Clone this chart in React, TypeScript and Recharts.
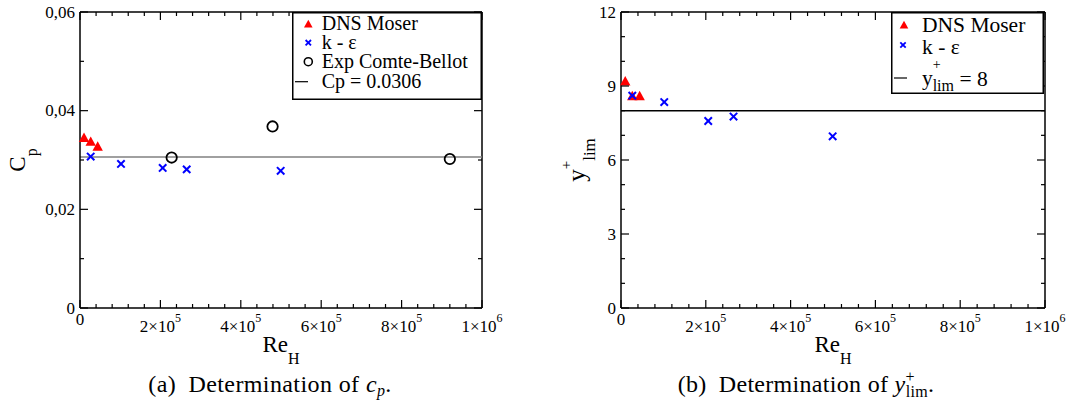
import React from "react";
import { ScatterChart, Scatter, XAxis, YAxis, ReferenceLine, Legend } from "recharts";

const FONT = "Liberation Serif, Times New Roman, Times, serif";

// Re_H of each case
const dnsRe = [10000, 26600, 44000];
const keRe = [26600, 102000, 205700, 265400, 499200];
const expRe = [228000, 479000, 920000];

// (a) pressure coefficient
const dnsCp = [0.0344, 0.0336, 0.0326];
const keCp = [0.0307, 0.0292, 0.0284, 0.0281, 0.0278];
const expCp = [0.0305, 0.0368, 0.0302];
const cpFit = 0.0306;

// (b) y+ limit
const dnsYlim = [9.17, 8.57, 8.57];
const keYlim = [8.61, 8.35, 7.58, 7.76, 6.96];
const yLimFit = 8;

// axis ticks
const xTicks = [
  0, 40000, 80000, 120000, 160000, 200000, 240000, 280000, 320000, 360000, 400000,
  440000, 480000, 520000, 560000, 600000, 640000, 680000, 720000, 760000, 800000,
  840000, 880000, 920000, 960000, 1000000,
];
const xMajor = [0, 200000, 400000, 600000, 800000, 1000000];
const xTickBase = ["0", "2×10", "4×10", "6×10", "8×10", "1×10"];
const xTickExp = ["", "5", "5", "5", "5", "6"];

const cpTicks = [0, 0.01, 0.02, 0.03, 0.04, 0.05, 0.06];
const cpMajor = [0, 0.02, 0.04, 0.06];
const cpLabels = ["0", "0,02", "0,04", "0,06"];

const ylimTicks = [0, 1, 2, 3, 4, 5, 6, 7, 8, 9, 10, 11, 12];
const ylimMajor = [0, 3, 6, 9, 12];
const ylimLabels = ["0", "3", "6", "9", "12"];

const PLOT_H = 296;

const toPoints = (xs: number[], ys: number[]) => xs.map((re, i) => ({ re, v: ys[i] }));

const Triangle = (p: any) => (
  <polygon
    points={`${p.cx},${p.cy - 5.8} ${p.cx - 5.2},${p.cy + 3.6} ${p.cx + 5.2},${p.cy + 3.6}`}
    fill="#ff0000"
  />
);
const Cross = (p: any) => (
  <g stroke="#0000ff" strokeWidth={2}>
    <line x1={p.cx - 3.7} y1={p.cy - 3.7} x2={p.cx + 3.7} y2={p.cy + 3.7} />
    <line x1={p.cx - 3.7} y1={p.cy + 3.7} x2={p.cx + 3.7} y2={p.cy - 3.7} />
  </g>
);
const Ring = (p: any) => <circle cx={p.cx} cy={p.cy} r={5.2} fill="none" stroke="#000" strokeWidth={1.8} />;

const XTick = (props: any) => {
  const { x, y, payload } = props;
  const i = xMajor.indexOf(payload.value);
  const len = i >= 0 ? 8 : 4;
  return (
    <g>
      <line x1={x} y1={y} x2={x} y2={y - len} stroke="#000" strokeWidth={1.2} />
      <line x1={x} y1={y - PLOT_H} x2={x} y2={y - PLOT_H + len} stroke="#000" strokeWidth={1.2} />
      {i === 0 && (
        <text x={x} y={y + 17} textAnchor="middle" fontSize={17} fontFamily={FONT}>
          0
        </text>
      )}
      {i > 0 && (
        <text x={x} y={y + 23.5} textAnchor="middle" fontSize={17} fontFamily={FONT}>
          {xTickBase[i]}
          <tspan dy={-10} fontSize={12}>
            {xTickExp[i]}
          </tspan>
        </text>
      )}
    </g>
  );
};

const YTick = (props: any) => {
  const { x, y, payload, majors, labels, plotW } = props;
  const i = majors.indexOf(payload.value);
  const len = i >= 0 ? 8 : 4;
  return (
    <g>
      <line x1={x} y1={y} x2={x + len} y2={y} stroke="#000" strokeWidth={1.2} />
      <line x1={x + plotW} y1={y} x2={x + plotW - len} y2={y} stroke="#000" strokeWidth={1.2} />
      {i >= 0 && (
        <text x={x - 5} y={y + 5.5} textAnchor="end" fontSize={17} fontFamily={FONT}>
          {labels[i]}
        </text>
      )}
    </g>
  );
};

const ReTitle = (props: any) => {
  const vb = props.viewBox;
  return (
    <text x={vb.x + vb.width / 2} y={vb.y + 44} textAnchor="middle" fontSize={23} fontFamily={FONT}>
      Re
      <tspan dy={11.5} fontSize={16}>
        H
      </tspan>
    </text>
  );
};

const CpTitle = (props: any) => {
  const vb = props.viewBox;
  const cy = vb.y + vb.height / 2;
  return (
    <text transform={`translate(25,${cy}) rotate(-90)`} textAnchor="middle" fontSize={23} fontFamily={FONT}>
      C
      <tspan dy={12} fontSize={16}>
        p
      </tspan>
    </text>
  );
};

const YlimTitle = (props: any) => {
  const vb = props.viewBox;
  const cy = vb.y + vb.height / 2;
  return (
    <text transform={`translate(45,${cy}) rotate(-90)`} textAnchor="middle" fontSize={25} fontFamily={FONT}>
      y
      <tspan dy={-14} fontSize={15}>
        +
      </tspan>
      <tspan dy={24} fontSize={17}>
        lim
      </tspan>
    </text>
  );
};

const LeftLegend = () => (
  <svg width={190} height={88} style={{ display: "block" }}>
    <rect x={0.75} y={0.75} width={188.5} height={86.5} fill="#fff" stroke="#000" strokeWidth={1.5} />
    <g fontSize={20} fontFamily={FONT}>
      <polygon points="16.3,7.8 12,15.6 20.6,15.6" fill="#ff0000" />
      <text x={29.7} y={18}>DNS Moser</text>
      <g stroke="#0000ff" strokeWidth={1.8}>
        <line x1={13.6} y1={28} x2={19} y2={33.4} />
        <line x1={13.6} y1={33.4} x2={19} y2={28} />
      </g>
      <text x={29.7} y={36.8}>k - ε</text>
      <circle cx={16.3} cy={49.7} r={4} fill="none" stroke="#000" strokeWidth={1.6} />
      <text x={29.7} y={55.8}>Exp Comte-Bellot</text>
      <line x1={3} y1={69.7} x2={16} y2={69.7} stroke="#000" strokeWidth={1.2} />
      <text x={29.7} y={76}>Cp = {cpFit}</text>
    </g>
  </svg>
);

const RightLegend = () => (
  <svg width={153} height={82} style={{ display: "block" }}>
    <rect x={0.75} y={0.75} width={151.5} height={80.5} fill="#fff" stroke="#000" strokeWidth={1.5} />
    <g fontSize={21.5} fontFamily={FONT}>
      <polygon points="13,8.8 8.7,16.6 17.3,16.6" fill="#ff0000" />
      <text x={31} y={20}>DNS Moser</text>
      <g stroke="#0000ff" strokeWidth={1.8}>
        <line x1={9.3} y1={30.3} x2={14.7} y2={35.7} />
        <line x1={9.3} y1={35.7} x2={14.7} y2={30.3} />
      </g>
      <text x={31} y={41.5}>k - ε</text>
      <line x1={3} y1={66} x2={16} y2={66} stroke="#000" strokeWidth={1.2} />
      <text x={31} y={73}>
        y
        <tspan dy={-16} fontSize={14}>+</tspan>
        <tspan dx={-8} dy={22} fontSize={16}>lim</tspan>
        <tspan dy={-5}> = {yLimFit}</tspan>
      </text>
    </g>
  </svg>
);

const axisLine = { stroke: "#000", strokeWidth: 1.5 };

const CpChart = () => (
  <ScatterChart width={540} height={410} margin={{ top: 12, right: 58, bottom: 52, left: 0 }}>
    <XAxis
      type="number"
      dataKey="re"
      domain={[0, 1000000]}
      ticks={xTicks}
      interval={0}
      tickLine={false}
      tickSize={0}
      tickMargin={0}
      axisLine={axisLine}
      height={50}
      tick={(p: any) => <XTick {...p} />}
      label={<ReTitle />}
    />
    <YAxis
      type="number"
      dataKey="v"
      domain={[0, 0.06]}
      ticks={cpTicks}
      interval={0}
      tickLine={false}
      tickSize={0}
      tickMargin={0}
      axisLine={axisLine}
      width={80}
      tick={(p: any) => <YTick {...p} majors={cpMajor} labels={cpLabels} plotW={402} />}
      label={<CpTitle />}
    />
    <ReferenceLine y={0.06} stroke="#000" strokeWidth={1.5} />
    <ReferenceLine x={1000000} stroke="#000" strokeWidth={1.5} />
    <ReferenceLine y={cpFit} stroke="#808080" strokeWidth={1.5} />
    <Scatter name="DNS Moser" data={toPoints(dnsRe, dnsCp)} shape={Triangle} isAnimationActive={false} />
    <Scatter name="k - ε" data={toPoints(keRe, keCp)} shape={Cross} isAnimationActive={false} />
    <Scatter name="Exp Comte-Bellot" data={toPoints(expRe, expCp)} shape={Ring} isAnimationActive={false} />
    <Legend
      layout="horizontal"
      verticalAlign="middle"
      align="center"
      content={() => <LeftLegend />}
      wrapperStyle={{ position: "absolute", left: 292, top: 12, width: 190, height: 88 }}
    />
  </ScatterChart>
);

const YlimChart = () => (
  <ScatterChart width={532} height={410} margin={{ top: 12, right: 27, bottom: 52, left: 0 }}>
    <XAxis
      type="number"
      dataKey="re"
      domain={[0, 1000000]}
      ticks={xTicks}
      interval={0}
      tickLine={false}
      tickSize={0}
      tickMargin={0}
      axisLine={axisLine}
      height={50}
      tick={(p: any) => <XTick {...p} />}
      label={<ReTitle />}
    />
    <YAxis
      type="number"
      dataKey="v"
      domain={[0, 12]}
      ticks={ylimTicks}
      interval={0}
      tickLine={false}
      tickSize={0}
      tickMargin={0}
      axisLine={axisLine}
      width={81}
      tick={(p: any) => <YTick {...p} majors={ylimMajor} labels={ylimLabels} plotW={424} />}
      label={<YlimTitle />}
    />
    <ReferenceLine y={12} stroke="#000" strokeWidth={1.5} />
    <ReferenceLine x={1000000} stroke="#000" strokeWidth={1.5} />
    <ReferenceLine y={yLimFit} stroke="#000" strokeWidth={1.5} />
    <Scatter name="DNS Moser" data={toPoints(dnsRe, dnsYlim)} shape={Triangle} isAnimationActive={false} />
    <Scatter name="k - ε" data={toPoints(keRe, keYlim)} shape={Cross} isAnimationActive={false} />
    <Legend
      layout="horizontal"
      verticalAlign="middle"
      align="center"
      content={() => <RightLegend />}
      wrapperStyle={{ position: "absolute", left: 351, top: 12, width: 153, height: 82 }}
    />
  </ScatterChart>
);

export default function App() {
  return (
    <div style={{ position: "absolute", left: 0, top: 0, width: 1072, height: 410, background: "#fff" }}>
      <svg width={1072} height={410} style={{ position: "absolute", left: 0, top: 0 }}>
        <g fontFamily={FONT} fontSize={24}>
          <text x={270} y={392} textAnchor="middle" letterSpacing={0.4}>
            (a)&#8194;Determination of <tspan fontStyle="italic">c</tspan>
            <tspan fontStyle="italic" fontSize={16} dy={4}>p</tspan>
            <tspan dy={-4}>.</tspan>
          </text>
          <text x={806} y={392} textAnchor="middle" letterSpacing={0.3}>
            (b)&#8194;Determination of <tspan fontStyle="italic">y</tspan>
            <tspan fontSize={16} dy={-10}>+</tspan>
            <tspan fontSize={16} dx={-9} dy={15}>lim</tspan>
            <tspan dy={-5}>.</tspan>
          </text>
        </g>
      </svg>
      <div style={{ position: "absolute", left: 0, top: 0 }}>
        <CpChart />
      </div>
      <div style={{ position: "absolute", left: 540, top: 0 }}>
        <YlimChart />
      </div>
    </div>
  );
}
